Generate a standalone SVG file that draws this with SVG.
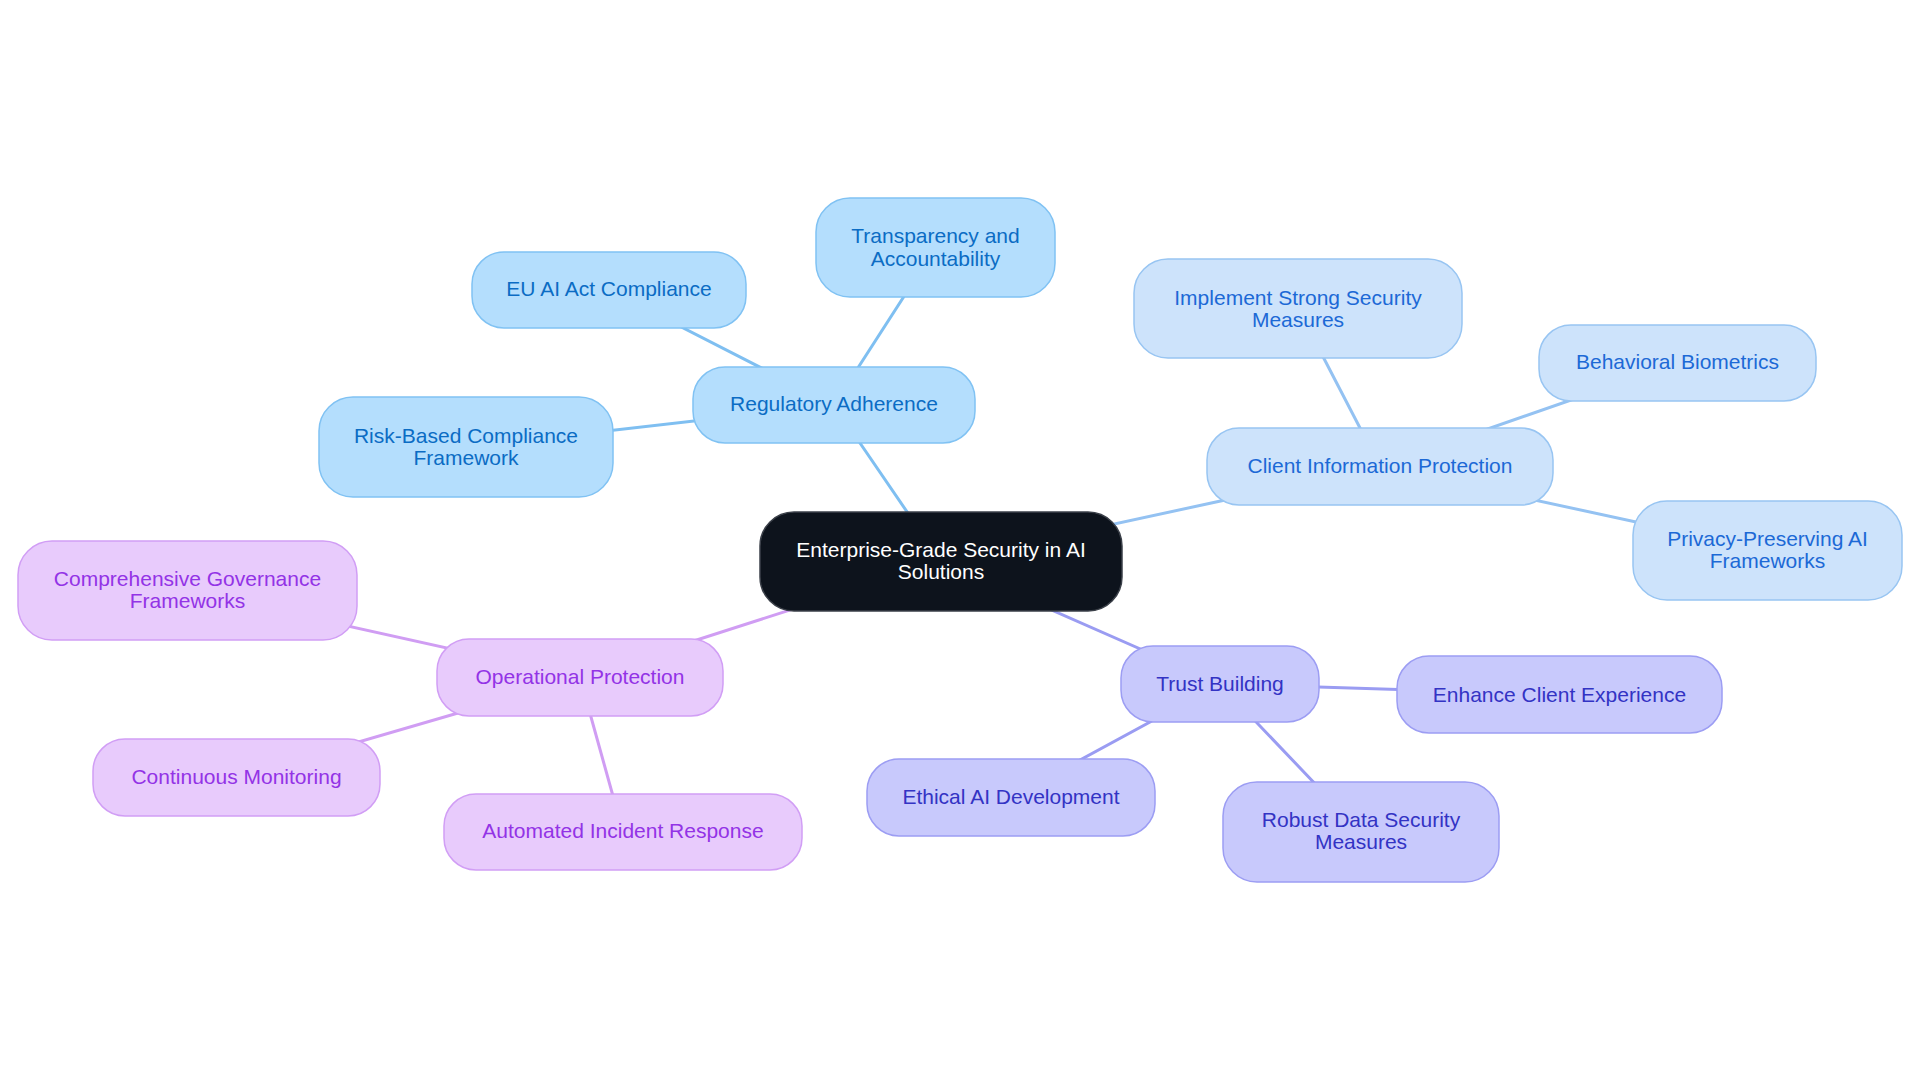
<svg xmlns="http://www.w3.org/2000/svg" width="1920" height="1083" viewBox="0 0 1920 1083">
<style>
text{font-family:"Liberation Sans",Arial,sans-serif;font-size:21px;text-anchor:middle}
.e{stroke-width:3;fill:none;stroke-linecap:round}
.eb{stroke:#7fbff1}
.ec{stroke:#94c2f2}
.et{stroke:#9a9cf2}
.ep{stroke:#d09df3}
.nb rect{fill:#b4defd;stroke:#80c2f3;stroke-width:1.5}
.nb text{fill:#0b6cc4}
.nc rect{fill:#cde3fb;stroke:#98c5f2;stroke-width:1.5}
.nc text{fill:#1c69d6}
.nt rect{fill:#c8c9fc;stroke:#9c9df3;stroke-width:1.5}
.nt text{fill:#3333c4}
.np rect{fill:#e8cbfc;stroke:#d19ef5;stroke-width:1.5}
.np text{fill:#9333e6}
.nr rect{fill:#0d131c;stroke:#3b4049;stroke-width:1.5}
.nr text{fill:#ffffff}
</style>
<rect width="1920" height="1083" fill="#ffffff"/>
<g id="connectors">
<line class="e eb" x1="941" y1="561.5" x2="834" y2="405"/>
<line class="e eb" x1="834" y1="405" x2="609" y2="290"/>
<line class="e eb" x1="834" y1="405" x2="935.5" y2="247.5"/>
<line class="e eb" x1="834" y1="405" x2="466" y2="447"/>
<line class="e ec" x1="941" y1="561.5" x2="1380" y2="466.5"/>
<line class="e ec" x1="1380" y1="466.5" x2="1298" y2="308.5"/>
<line class="e ec" x1="1380" y1="466.5" x2="1677.5" y2="363"/>
<line class="e ec" x1="1380" y1="466.5" x2="1767.5" y2="550.5"/>
<line class="e et" x1="941" y1="561.5" x2="1220" y2="684"/>
<line class="e et" x1="1220" y1="684" x2="1559.5" y2="694.5"/>
<line class="e et" x1="1220" y1="684" x2="1011" y2="797.5"/>
<line class="e et" x1="1220" y1="684" x2="1361" y2="832"/>
<line class="e ep" x1="941" y1="561.5" x2="580" y2="677.5"/>
<line class="e ep" x1="580" y1="677.5" x2="187.5" y2="590.5"/>
<line class="e ep" x1="580" y1="677.5" x2="236.5" y2="777.5"/>
<line class="e ep" x1="580" y1="677.5" x2="623" y2="832"/>
</g>
<g id="root" class="nr"><rect x="760" y="512" width="362" height="99" rx="34"/><text x="941" y="557">Enterprise-Grade Security in AI</text><text x="941" y="579">Solutions</text></g>
<g id="regulatory" class="nb"><rect x="693" y="367" width="282" height="76" rx="32"/><text x="834" y="411">Regulatory Adherence</text></g>
<g id="euai" class="nb"><rect x="472" y="252" width="274" height="76" rx="32"/><text x="609" y="296">EU AI Act Compliance</text></g>
<g id="transparency" class="nb"><rect x="816" y="198" width="239" height="99" rx="34"/><text x="935.5" y="243">Transparency and</text><text x="935.5" y="265.5">Accountability</text></g>
<g id="riskbased" class="nb"><rect x="319" y="397" width="294" height="100" rx="34"/><text x="466" y="443">Risk-Based Compliance</text><text x="466" y="465">Framework</text></g>
<g id="client" class="nc"><rect x="1207" y="428" width="346" height="77" rx="32"/><text x="1380" y="472.5">Client Information Protection</text></g>
<g id="implement" class="nc"><rect x="1134" y="259" width="328" height="99" rx="34"/><text x="1298" y="304.5">Implement Strong Security</text><text x="1298" y="326.5">Measures</text></g>
<g id="behavioral" class="nc"><rect x="1539" y="325" width="277" height="76" rx="32"/><text x="1677.5" y="369">Behavioral Biometrics</text></g>
<g id="privacy" class="nc"><rect x="1633" y="501" width="269" height="99" rx="34"/><text x="1767.5" y="545.5">Privacy-Preserving AI</text><text x="1767.5" y="567.5">Frameworks</text></g>
<g id="trust" class="nt"><rect x="1121" y="646" width="198" height="76" rx="32"/><text x="1220" y="691">Trust Building</text></g>
<g id="enhance" class="nt"><rect x="1397" y="656" width="325" height="77" rx="32"/><text x="1559.5" y="701.5">Enhance Client Experience</text></g>
<g id="ethical" class="nt"><rect x="867" y="759" width="288" height="77" rx="32"/><text x="1011" y="804">Ethical AI Development</text></g>
<g id="robust" class="nt"><rect x="1223" y="782" width="276" height="100" rx="34"/><text x="1361" y="827">Robust Data Security</text><text x="1361" y="849">Measures</text></g>
<g id="operational" class="np"><rect x="437" y="639" width="286" height="77" rx="32"/><text x="580" y="683.5">Operational Protection</text></g>
<g id="governance" class="np"><rect x="18" y="541" width="339" height="99" rx="34"/><text x="187.5" y="585.5">Comprehensive Governance</text><text x="187.5" y="607.5">Frameworks</text></g>
<g id="monitoring" class="np"><rect x="93" y="739" width="287" height="77" rx="32"/><text x="236.5" y="783.5">Continuous Monitoring</text></g>
<g id="incident" class="np"><rect x="444" y="794" width="358" height="76" rx="32"/><text x="623" y="838">Automated Incident Response</text></g>
</svg>
